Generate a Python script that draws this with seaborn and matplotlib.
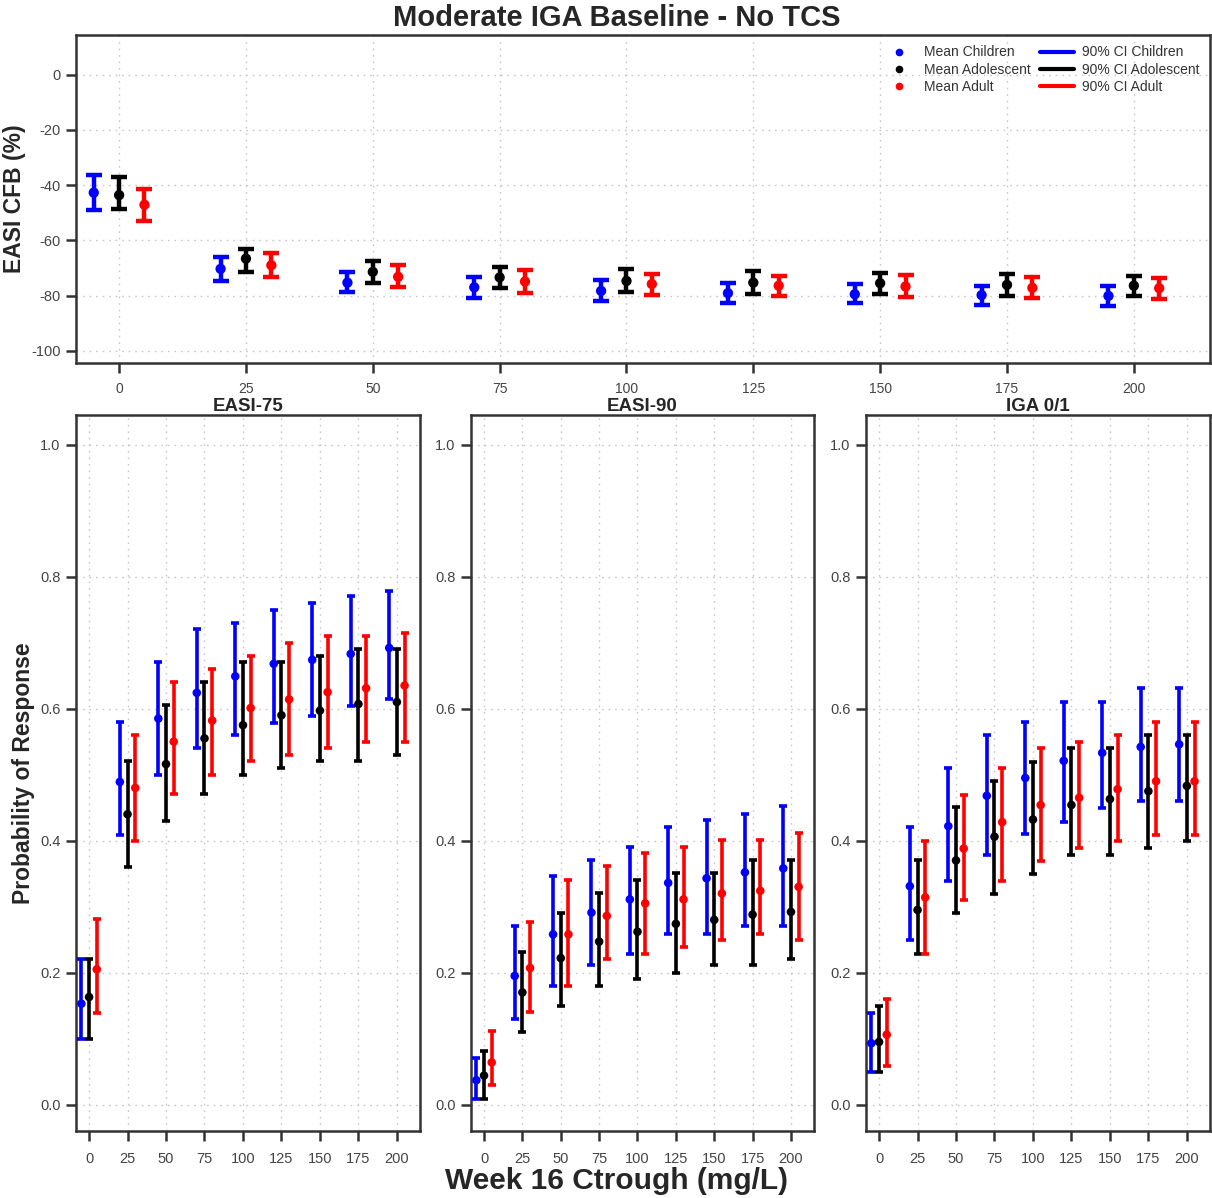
import matplotlib
matplotlib.use("Agg")
import matplotlib.pyplot as plt
from matplotlib.lines import Line2D
import seaborn as sns
import pandas as pd
import numpy as np

# ---------------- data ----------------
doses = [0, 25, 50, 75, 100, 125, 150, 175, 200]
groups = ["Children", "Adolescent", "Adult"]

# EASI CFB (%)
cfb_child_mean = [-42.7, -70.3, -75.3, -77.0, -78.3, -79.1, -79.5, -79.8, -80.1]
cfb_child_lo = [-48.9, -74.7, -78.6, -80.9, -82.1, -82.5, -82.7, -83.4, -83.9]
cfb_child_hi = [-36.2, -66.0, -71.4, -73.2, -74.3, -75.5, -75.8, -76.4, -76.5]
cfb_adol_mean = [-43.6, -66.6, -71.4, -73.4, -74.7, -75.3, -75.5, -76.1, -76.4]
cfb_adol_lo = [-48.7, -71.4, -75.5, -77.3, -78.8, -79.4, -79.5, -80.0, -80.1]
cfb_adol_hi = [-36.9, -63.0, -67.4, -69.8, -70.5, -71.0, -71.9, -72.3, -72.9]
cfb_adult_mean = [-47.1, -69.0, -73.2, -74.9, -75.8, -76.4, -76.7, -77.2, -77.3]
cfb_adult_lo = [-53.0, -73.2, -77.0, -78.9, -79.7, -80.3, -80.5, -80.9, -81.1]
cfb_adult_hi = [-41.3, -64.6, -69.0, -70.8, -72.0, -72.8, -72.5, -73.4, -73.6]

# EASI-75
e75_child_mean = [0.153, 0.489, 0.585, 0.624, 0.649, 0.668, 0.674, 0.683, 0.692]
e75_child_lo = [0.100, 0.409, 0.500, 0.540, 0.560, 0.579, 0.589, 0.604, 0.614]
e75_child_hi = [0.220, 0.580, 0.670, 0.720, 0.730, 0.750, 0.760, 0.770, 0.779]
e75_adol_mean = [0.163, 0.440, 0.516, 0.555, 0.575, 0.590, 0.597, 0.607, 0.610]
e75_adol_lo = [0.100, 0.360, 0.430, 0.470, 0.500, 0.510, 0.520, 0.520, 0.530]
e75_adol_hi = [0.220, 0.520, 0.605, 0.640, 0.670, 0.670, 0.680, 0.690, 0.690]
e75_adult_mean = [0.205, 0.480, 0.550, 0.582, 0.601, 0.614, 0.625, 0.631, 0.635]
e75_adult_lo = [0.139, 0.400, 0.470, 0.500, 0.520, 0.530, 0.540, 0.550, 0.550]
e75_adult_hi = [0.281, 0.560, 0.640, 0.660, 0.680, 0.700, 0.710, 0.710, 0.715]

# EASI-90
e90_child_mean = [0.037, 0.195, 0.258, 0.291, 0.311, 0.336, 0.343, 0.352, 0.358]
e90_child_lo = [0.009, 0.130, 0.180, 0.211, 0.229, 0.259, 0.259, 0.270, 0.270]
e90_child_hi = [0.071, 0.271, 0.346, 0.371, 0.391, 0.420, 0.431, 0.441, 0.452]
e90_adol_mean = [0.044, 0.170, 0.222, 0.247, 0.262, 0.274, 0.280, 0.288, 0.292]
e90_adol_lo = [0.009, 0.110, 0.150, 0.180, 0.190, 0.200, 0.211, 0.211, 0.220]
e90_adol_hi = [0.081, 0.231, 0.291, 0.321, 0.341, 0.351, 0.351, 0.370, 0.370]
e90_adult_mean = [0.064, 0.207, 0.258, 0.286, 0.305, 0.311, 0.320, 0.324, 0.330]
e90_adult_lo = [0.029, 0.140, 0.180, 0.220, 0.229, 0.239, 0.249, 0.259, 0.250]
e90_adult_hi = [0.111, 0.276, 0.341, 0.361, 0.381, 0.391, 0.401, 0.401, 0.411]

# IGA 0/1
iga_child_mean = [0.093, 0.331, 0.422, 0.468, 0.495, 0.521, 0.533, 0.542, 0.546]
iga_child_lo = [0.049, 0.249, 0.339, 0.379, 0.410, 0.429, 0.450, 0.460, 0.460]
iga_child_hi = [0.139, 0.420, 0.510, 0.560, 0.580, 0.610, 0.610, 0.631, 0.631]
iga_adol_mean = [0.095, 0.295, 0.370, 0.406, 0.432, 0.454, 0.463, 0.475, 0.483]
iga_adol_lo = [0.049, 0.229, 0.290, 0.319, 0.350, 0.379, 0.379, 0.389, 0.399]
iga_adol_hi = [0.150, 0.370, 0.451, 0.491, 0.519, 0.540, 0.540, 0.560, 0.560]
iga_adult_mean = [0.106, 0.314, 0.388, 0.428, 0.454, 0.465, 0.478, 0.490, 0.490]
iga_adult_lo = [0.059, 0.229, 0.310, 0.339, 0.369, 0.389, 0.399, 0.409, 0.409]
iga_adult_hi = [0.160, 0.400, 0.469, 0.510, 0.540, 0.550, 0.560, 0.580, 0.580]

x_ticks = [0, 25, 50, 75, 100, 125, 150, 175, 200]
cfb_yticks = [0, -20, -40, -60, -80, -100]
prob_yticks = [0.0, 0.2, 0.4, 0.6, 0.8, 1.0]

# ---------------- styling ----------------
sns.set_style("white")
plt.rcParams["font.family"] = ["Liberation Sans", "DejaVu Sans"]

colors = {"Children": "#0000FF", "Adolescent": "#000000", "Adult": "#FF0000"}
offsets = {"Children": -5, "Adolescent": 0, "Adult": 5}
frame_col = "#333333"
tick_col = "#444444"


def make_df(means, los, his):
    rows = []
    for g, m, lo, hi in zip(groups, means, los, his):
        for d, mv, lv, hv in zip(doses, m, lo, hi):
            rows.append({"dose": d, "group": g, "x": d + offsets[g],
                         "mean": mv, "lo": lv, "hi": hv})
    return pd.DataFrame(rows)


def style_axes(ax, ylim, yticks, yfmt):
    ax.set_xlim(-8.5, 215)
    ax.set_ylim(*ylim)
    ax.set_xticks(x_ticks)
    ax.set_yticks(yticks)
    ax.set_yticklabels([yfmt(v) for v in yticks])
    ax.grid(True, linestyle=(0, (1.2, 3.5)), color="#c8c8c8", linewidth=1.0)
    ax.set_axisbelow(True)
    for s in ax.spines.values():
        s.set_visible(True)
        s.set_color(frame_col)
        s.set_linewidth(1.8)
    ax.tick_params(axis="both", which="both", direction="out", length=7,
                   width=1.8, color=frame_col, labelcolor=tick_col,
                   labelsize=10.5, bottom=True, left=True)
    ax.tick_params(axis="x", pad=8)
    ax.tick_params(axis="y", pad=4)
    ax.set_xlabel("")
    ax.set_ylabel("")


def draw(ax, df, lw, capsize, msize):
    for g in groups:
        sub = df[df["group"] == g]
        ax.errorbar(sub["x"], sub["mean"],
                    yerr=[sub["mean"] - sub["lo"], sub["hi"] - sub["mean"]],
                    fmt="none", ecolor=colors[g], elinewidth=lw,
                    capsize=capsize, capthick=lw, zorder=3)
    sns.scatterplot(data=df, x="x", y="mean", hue="group", palette=colors,
                    hue_order=groups, s=msize, edgecolor="none", ax=ax,
                    legend=False, zorder=4)


fig = plt.figure(figsize=(12.12, 11.98), dpi=100)

ax_top = fig.add_axes([0.0627, 0.697, 0.9356, 0.2738])
ax_l = fig.add_axes([0.0627, 0.0559, 0.2838, 0.5977])
ax_m = fig.add_axes([0.3886, 0.0559, 0.2830, 0.5977])
ax_r = fig.add_axes([0.7145, 0.0559, 0.2838, 0.5977])

# top panel
df_cfb = make_df([cfb_child_mean, cfb_adol_mean, cfb_adult_mean],
                 [cfb_child_lo, cfb_adol_lo, cfb_adult_lo],
                 [cfb_child_hi, cfb_adol_hi, cfb_adult_hi])
draw(ax_top, df_cfb, lw=3.2, capsize=6, msize=55)
style_axes(ax_top, (-104.4, 14.4), cfb_yticks, lambda v: f"{v:d}")
ax_top.tick_params(axis="x", pad=7, labelsize=10)
ax_top.set_ylabel("EASI CFB (%)", fontsize=16.5, fontweight="bold",
                  labelpad=4)

handles = [
    Line2D([], [], marker="o", linestyle="none", color=colors["Children"],
           markersize=4.5, label="Mean Children"),
    Line2D([], [], marker="o", linestyle="none", color=colors["Adolescent"],
           markersize=4.5, label="Mean Adolescent"),
    Line2D([], [], marker="o", linestyle="none", color=colors["Adult"],
           markersize=4.5, label="Mean Adult"),
    Line2D([], [], color=colors["Children"], lw=3, label="90% CI Children"),
    Line2D([], [], color=colors["Adolescent"], lw=3,
           label="90% CI Adolescent"),
    Line2D([], [], color=colors["Adult"], lw=3, label="90% CI Adult"),
]
leg = ax_top.legend(handles=handles, ncol=2, loc="upper right",
                    bbox_to_anchor=(1.0, 1.0), frameon=False, fontsize=10,
                    handlelength=2.4, handletextpad=0.6, columnspacing=0.7,
                    labelspacing=0.25, borderaxespad=0.35)
for t in leg.get_texts():
    t.set_color("#333333")

# bottom panels
panels = [
    (ax_l, "EASI-75", [e75_child_mean, e75_adol_mean, e75_adult_mean],
     [e75_child_lo, e75_adol_lo, e75_adult_lo],
     [e75_child_hi, e75_adol_hi, e75_adult_hi]),
    (ax_m, "EASI-90", [e90_child_mean, e90_adol_mean, e90_adult_mean],
     [e90_child_lo, e90_adol_lo, e90_adult_lo],
     [e90_child_hi, e90_adol_hi, e90_adult_hi]),
    (ax_r, "IGA 0/1", [iga_child_mean, iga_adol_mean, iga_adult_mean],
     [iga_child_lo, iga_adol_lo, iga_adult_lo],
     [iga_child_hi, iga_adol_hi, iga_adult_hi]),
]
for ax, title, m, lo, hi in panels:
    df = make_df(m, lo, hi)
    draw(ax, df, lw=2.6, capsize=3, msize=38)
    style_axes(ax, (-0.04, 1.045), prob_yticks, lambda v: f"{v:.1f}")
    ax.set_title(title, fontsize=13.5, fontweight="bold", pad=0)

ax_l.set_ylabel("Probability of Response", fontsize=16.5, fontweight="bold",
                labelpad=4)

fig.text(0.509, 0.985, "Moderate IGA Baseline - No TCS", fontsize=21,
         fontweight="bold", ha="center", va="center")
fig.text(0.509, 0.0145, "Week 16 Ctrough (mg/L)", fontsize=21.5,
         fontweight="bold", ha="center", va="center")

fig.savefig("out.png", dpi=100)
